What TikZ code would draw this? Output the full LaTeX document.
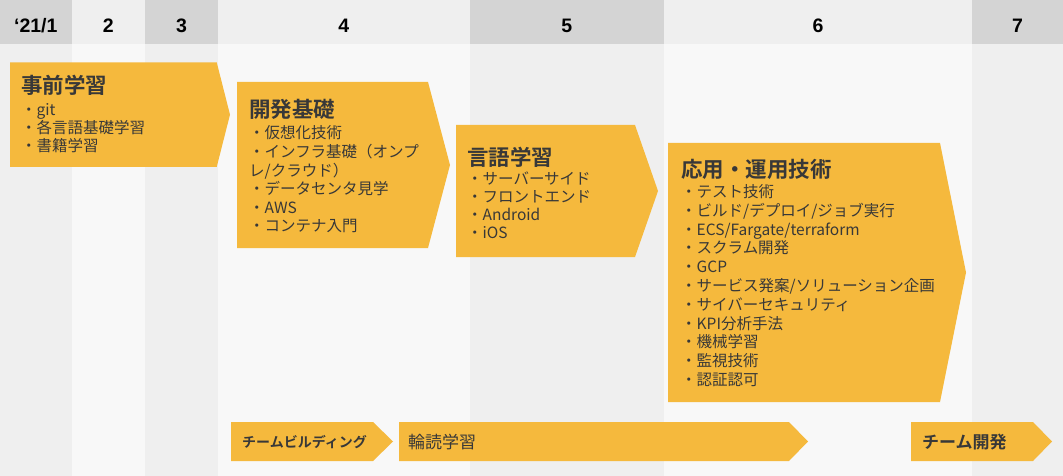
\documentclass[tikz,border=0pt]{standalone}
\usepackage{fontspec}
\setmainfont{Noto Sans CJK JP}[BoldFont={Noto Sans CJK JP Bold}]
\newfontfamily\numfont{Liberation Sans}
\usetikzlibrary{positioning}

\definecolor{phasefill}{RGB}{245,185,61}
\definecolor{hdrdark}{RGB}{212,212,212}
\definecolor{hdrlight}{RGB}{239,239,239}
\definecolor{bodydark}{RGB}{239,239,239}
\definecolor{bodylight}{RGB}{248,248,248}
\definecolor{inktext}{RGB}{56,56,56}

\begin{document}
\begin{tikzpicture}[x=1pt, y=-1pt,
  phase/.style={fill=phasefill},
  month/.style={font=\numfont\bfseries\fontsize{19.5}{20}\selectfont, inner sep=0pt, anchor=base},
  title/.style={font=\bfseries\fontsize{21.5}{24}\selectfont, text=inktext, inner sep=0pt, anchor=base west},
  item/.style={font=\fontsize{15.5}{18}\selectfont, text=inktext, inner sep=0pt, anchor=base west},
  tag/.style={text=inktext, inner sep=0pt, anchor=base west}]
\useasboundingbox (0,0) rectangle (1063,476);

% month columns
\foreach \l/\r/\s/\n in {0/71.6/dark/c1, 71.6/145/light/c2, 145/218/dark/c3, 218/469.5/light/c4,
    469.5/664/dark/c5, 664/972/light/c6, 972/1063/dark/c7} {
  \fill[body\s] (\l,44) rectangle (\r,476);
  \fill[hdr\s] (\l,0) rectangle (\r,44);
  \coordinate (\n) at ({(\l+\r)/2},32.3);
}
\node[month] (m1) at (c1) {‘21/1};
\node[month] (m2) at (c2) {2};
\node[month] (m3) at (c3) {3};
\node[month] (m4) at (c4) {4};
\node[month] (m5) at (c5) {5};
\node[month] (m6) at (c6) {6};
\node[month] (m7) at (c7) {7};

% phase arrows
\foreach \l/\t/\b/\r/\p in {10/62.3/167/216.7/230, 237/82/248/428/450, 456/125/257/635/658,
    668/143/402/940/966, 231/422/461/373/393, 399/422/461/789/808, 911/422/461/1033/1052}
  \fill[phase] (\l,\t) -- (\r,\t) -- (\p,{(\t+\b)/2}) -- (\r,\b) -- (\l,\b) -- cycle;

% 事前学習
\node[title] (t1) at (21,94) {事前学習};
\foreach \s [count=\i from 0] in {・git, ・各言語基礎学習, ・書籍学習}
  \node[item] (a\i) at (21,115.7+18*\i) {\s};

% 開発基礎
\node[title] (t2) at (249,118) {開発基礎};
\foreach \s [count=\i from 0] in {・仮想化技術, ・インフラ基礎（オンプ, レ/クラウド）, ・データセンタ見学, ・AWS, ・コンテナ入門}
  \node[item] (b\i) at (249,139+18.5*\i) {\s};

% 言語学習
\node[title] (t3) at (467,165) {言語学習};
\foreach \s [count=\i from 0] in {・サーバーサイド, ・フロントエンド, ・Android, ・iOS}
  \node[item] (c\i) at (467,184+18.1*\i) {\s};

% 応用・運用技術
\node[title] (t4) at (681,177) {応用・運用技術};
\foreach \s [count=\i from 0] in {・テスト技術, ・ビルド/デプロイ/ジョブ実行, ・ECS/Fargate/terraform, ・スクラム開発, ・GCP,
    ・サービス発案/ソリューション企画, ・サイバーセキュリティ, ・KPI分析手法, ・機械学習, ・監視技術, ・認証認可}
  \node[item] (d\i) at (681,197.4+18.8*\i) {\s};

% bottom bars
\node[tag, font=\bfseries\fontsize{14}{16}\selectfont] (team) at (242,447.3) {チームビルディング};
\node[tag, font=\fontsize{17}{19}\selectfont] (rinkoku) at (408,448.5) {輪読学習};
\node[tag, font=\bfseries\fontsize{17}{19}\selectfont] (dev) at (922,448.5) {チーム開発};
\end{tikzpicture}
\end{document}
